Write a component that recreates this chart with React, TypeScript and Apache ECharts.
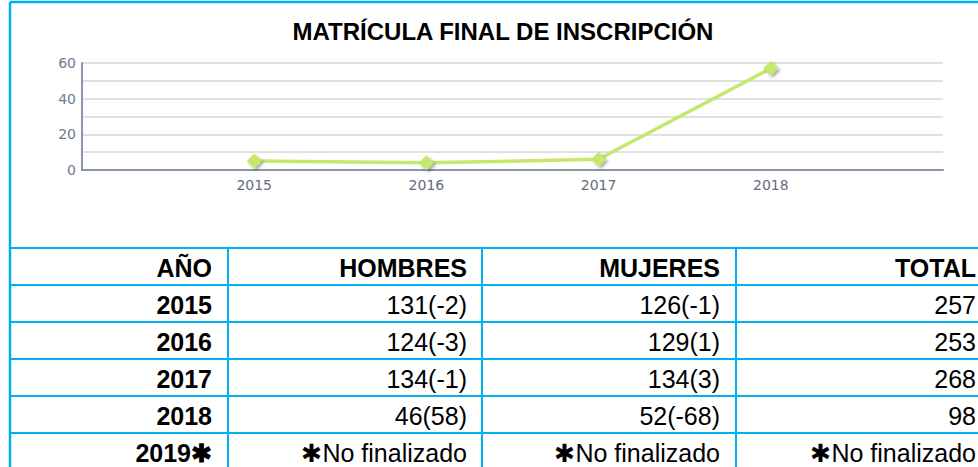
import React, { useEffect, useRef } from "react";
import * as echarts from "echarts";

const chartTitle = "MATRÍCULA FINAL DE INSCRIPCIÓN";
const years = [2015, 2016, 2017, 2018];
const values = [5, 4, 6, 57];
const yTickLabels = [0, 20, 40, 60];

const headers = ["AÑO", "HOMBRES", "MUJERES", "TOTAL"];
const tableYears = ["2015", "2016", "2017", "2018", "2019✱"];
const hombres = ["131(-2)", "124(-3)", "134(-1)", "46(58)", "✱No finalizado"];
const mujeres = ["126(-1)", "129(1)", "134(3)", "52(-68)", "✱No finalizado"];
const totals = ["257", "253", "268", "98", "✱No finalizado"];

const CYAN = "#00b0f0";
const FONT = '"Liberation Sans", Arial, sans-serif';

export default function App() {
  const ref = useRef<HTMLDivElement>(null);

  useEffect(() => {
    if (!ref.current) return;
    const chart = echarts.init(ref.current, null, { renderer: "svg" });

    const colRight = [212, 467, 720, 976];
    const colLines = [228, 482, 736];
    const rowLines = [248, 285, 322, 359, 396, 433];
    const rowH = 37;

    const g: any[] = [];
    g.push({ type: "line", shape: { x1: 10, y1: 2, x2: 978, y2: 2 }, style: { stroke: CYAN, lineWidth: 2.5 } });
    g.push({ type: "line", shape: { x1: 10, y1: 2, x2: 10, y2: 467 }, style: { stroke: CYAN, lineWidth: 2.5 } });
    rowLines.forEach((y) => {
      g.push({ type: "line", shape: { x1: 10, y1: y, x2: 978, y2: y }, style: { stroke: CYAN, lineWidth: 2 } });
    });
    colLines.forEach((x) => {
      g.push({ type: "line", shape: { x1: x, y1: rowLines[0], x2: x, y2: 467 }, style: { stroke: CYAN, lineWidth: 2 } });
    });

    const cell = (text: string, col: number, row: number, bold: boolean) => ({
      type: "text",
      style: {
        text,
        x: colRight[col],
        y: rowLines[0] + rowH * row + rowH / 2 + 1,
        align: "right",
        verticalAlign: "middle",
        fontSize: 25,
        fontWeight: bold ? "bold" : "normal",
        fontFamily: FONT,
        fill: "#000",
      },
    });

    headers.forEach((h, i) => g.push(cell(h, i, 0, true)));
    tableYears.forEach((y, r) => {
      g.push(cell(y, 0, r + 1, true));
      g.push(cell(hombres[r], 1, r + 1, false));
      g.push(cell(mujeres[r], 2, r + 1, false));
      g.push(cell(totals[r], 3, r + 1, false));
    });

    chart.setOption({
      animation: false,
      backgroundColor: "#fff",
      title: {
        text: chartTitle,
        left: 498,
        top: 14,
        textAlign: "center",
        textStyle: { fontSize: 24, fontWeight: "bold", fontFamily: FONT, color: "#000" },
      },
      grid: { left: 82, right: 35, top: 63, bottom: 297 },
      xAxis: {
        type: "value",
        min: 2014,
        max: 2019,
        interval: 1,
        axisLine: { show: true, onZero: false, lineStyle: { color: "#8995ab", width: 2 } },
        axisTick: { show: false },
        splitLine: { show: false },
        axisLabel: {
          margin: 8,
          color: "#646b80",
          fontSize: 14,
          fontFamily: '"DejaVu Sans", Verdana, sans-serif',
          formatter: (v: number) => (years.indexOf(v) >= 0 ? String(v) : ""),
        },
      },
      yAxis: {
        type: "value",
        min: 0,
        max: 60,
        interval: 10,
        axisLine: { show: true, lineStyle: { color: "#8995ab", width: 2 } },
        axisTick: { show: false },
        splitLine: { show: true, lineStyle: { color: "#e0e0e0", width: 2 } },
        axisLabel: {
          margin: 6,
          color: "#6f7a92",
          fontSize: 14,
          fontFamily: '"DejaVu Sans", Verdana, sans-serif',
          formatter: (v: number) => (yTickLabels.indexOf(v) >= 0 ? String(v) : ""),
        },
      },
      series: [
        {
          type: "line",
          data: years.map((y, i) => [y, values[i]]),
          symbol: "diamond",
          symbolSize: 15,
          lineStyle: { color: "#c4e86b", width: 3.5 },
          itemStyle: {
            color: "#c4e86b",
            shadowColor: "rgba(0,0,0,0.35)",
            shadowBlur: 3,
            shadowOffsetX: 2,
            shadowOffsetY: 2,
          },
        },
      ],
      graphic: g,
    });

    return () => chart.dispose();
  }, []);

  return (
    <div
      ref={ref}
      style={{ position: "fixed", left: 0, top: 0, width: 978, height: 467, background: "#fff" }}
    />
  );
}
